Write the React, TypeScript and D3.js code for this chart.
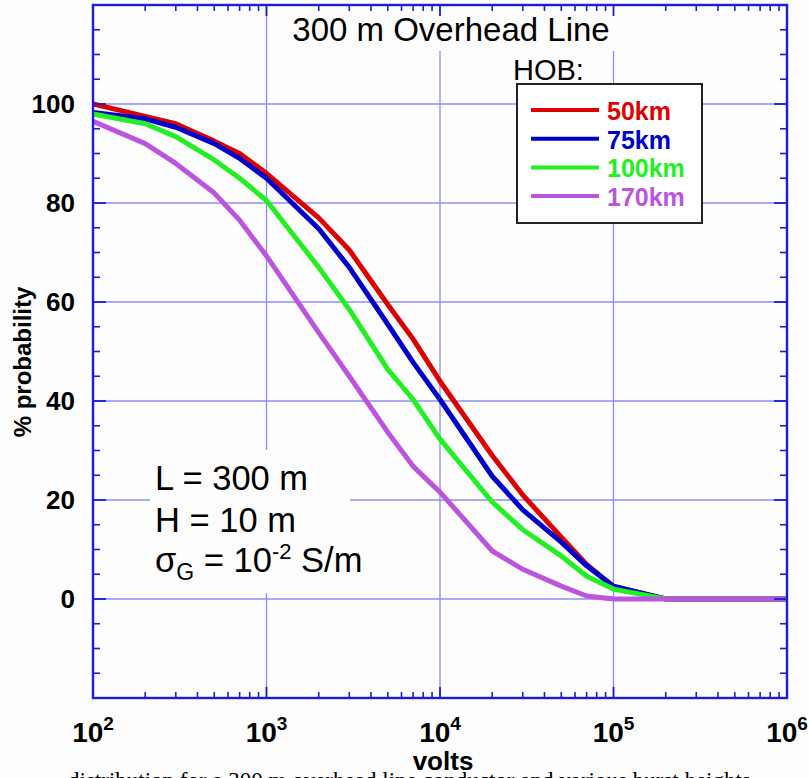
import React from "react";
import * as d3 from "d3";

const volts = [100, 200, 300, 500, 700, 1000, 2000, 3000, 5000, 7000, 1e4, 2e4, 3e4, 5e4, 7e4, 1e5, 2e5, 1e6];
const hob50 = [100, 97.5, 96, 92.5, 90, 86, 77, 70.5, 59.5, 52.5, 44, 29, 21, 12.5, 7, 2.5, 0, 0];
const hob75 = [98.3, 97, 95.3, 92, 89, 85, 74.8, 67, 55.5, 47.8, 40.3, 24.8, 18, 11.5, 6.7, 2.6, 0, 0];
const hob100 = [98, 96, 93.4, 88.7, 85, 80.5, 67, 58.5, 46.4, 40.3, 32.3, 19.6, 14, 8.7, 4.6, 2, 0, 0];
const hob170 = [96.5, 92, 88, 82, 76.5, 69.3, 53.8, 45, 33.7, 26.8, 21.6, 9.7, 6, 2.6, 0.6, 0, 0, 0];

const seriesNames = ["50km", "75km", "100km", "170km"];
const seriesColors = ["#dd0000", "#0000cc", "#22f022", "#bb55dd"];
const seriesValues = [hob50, hob75, hob100, hob170];

const yTicksMajor = [0, 20, 40, 60, 80, 100];
const xDecades = [2, 3, 4, 5, 6];

export default function App() {
  const L = 93, R = 787, T = 5, B = 698;
  const x = d3.scaleLog().domain([100, 1e6]).range([L, R]);
  const y = d3.scaleLinear().domain([-20, 120]).range([B, T]);
  const axisColor = "#1c1cd6";
  const gridColor = "#8c8cf0";

  const minorX: number[] = [];
  for (let e = 2; e < 6; e++) for (let m = 2; m <= 9; m++) minorX.push(m * Math.pow(10, e));
  const minorY: number[] = [];
  for (let v = -15; v < 120; v += 5) if (v % 20 !== 0) minorY.push(v);
  const majorY = d3.range(-20, 121, 20);

  const line = d3
    .line<number>()
    .x((_, i) => x(volts[i]))
    .y((d) => y(d));

  const font = "Arial, 'Liberation Sans', Helvetica, sans-serif";

  return (
    <svg
      width={809}
      height={778}
      style={{ position: "absolute", left: 0, top: 0, background: "#fff" }}
      fontFamily={font}
    >
      <rect x={0} y={0} width={809} height={778} fill="#fdfdfd" />
      <defs>
        <clipPath id="plotclip">
          <rect x={L} y={T} width={R - L} height={B - T} />
        </clipPath>
      </defs>
      {/* grid */}
      {xDecades.slice(1, 4).map((e) => (
        <line key={"gx" + e} x1={x(Math.pow(10, e))} x2={x(Math.pow(10, e))} y1={T} y2={B} stroke={gridColor} strokeWidth={1.3} />
      ))}
      {yTicksMajor.map((v, i) => (
        <line key={"gy" + i} x1={L} x2={R} y1={y(v)} y2={y(v)} stroke={gridColor} strokeWidth={1.3} />
      ))}
      {/* title background */}
      <rect x={272} y={T + 2} width={355} height={44} fill="#fdfdfd" />
      <text x={451} y={41} fontSize={33} textAnchor="middle" fill="#000">300 m Overhead Line</text>
      <text x={513} y={80} fontSize={29} fill="#000">HOB:</text>

      {/* annotation */}
      <rect x={150} y={450} width={200} height={143} fill="#fdfdfd" />
      <text x={155} y={490} fontSize={34.5} fill="#000">L = 300 m</text>
      <text x={155} y={532} fontSize={34.5} fill="#000">H = 10 m</text>
      <text x={155} y={572} fontSize={34.5} fill="#000">
        σ<tspan fontSize={23} dy={8}>G</tspan>
        <tspan dy={-8}> = 10</tspan>
        <tspan fontSize={22} dy={-13}>-2</tspan>
        <tspan dy={13}> S/m</tspan>
      </text>

      {/* curves */}
      <g clipPath="url(#plotclip)">
        {seriesValues.map((vals, i) => (
          <path
            key={seriesNames[i]}
            d={line(vals) || ""}
            fill="none"
            stroke={seriesColors[i]}
            strokeWidth={5}
            strokeLinejoin="round"
          />
        ))}
      </g>

      {/* ticks */}
      {minorX.map((v, i) => (
        <g key={"mx" + i} stroke={axisColor} strokeWidth={1.6}>
          <line x1={x(v)} x2={x(v)} y1={B} y2={B - 6} />
          <line x1={x(v)} x2={x(v)} y1={T} y2={T + 6} />
        </g>
      ))}
      {xDecades.map((e) => (
        <g key={"Mx" + e} stroke={axisColor} strokeWidth={1.8}>
          <line x1={x(Math.pow(10, e))} x2={x(Math.pow(10, e))} y1={B} y2={B - 11} />
          <line x1={x(Math.pow(10, e))} x2={x(Math.pow(10, e))} y1={T} y2={T + 11} />
        </g>
      ))}
      {minorY.map((v, i) => (
        <g key={"my" + i} stroke={axisColor} strokeWidth={1.6}>
          <line x1={L} x2={L + 7} y1={y(v)} y2={y(v)} />
          <line x1={R} x2={R - 7} y1={y(v)} y2={y(v)} />
        </g>
      ))}
      {majorY.map((v, i) => (
        <g key={"My" + i} stroke={axisColor} strokeWidth={1.8}>
          <line x1={L} x2={L + 13} y1={y(v)} y2={y(v)} />
          <line x1={R} x2={R - 13} y1={y(v)} y2={y(v)} />
        </g>
      ))}
      {/* frame */}
      <rect x={L} y={T} width={R - L} height={B - T} fill="none" stroke={axisColor} strokeWidth={2.4} />

      {/* y labels */}
      {yTicksMajor.map((v) => (
        <text key={"yl" + v} x={75} y={y(v) + 9} fontSize={26} fontWeight="bold" textAnchor="end" fill="#000">
          {v}
        </text>
      ))}
      {/* x labels */}
      {xDecades.map((e) => (
        <text key={"xl" + e} x={x(Math.pow(10, e))} y={742} fontSize={28} fontWeight="bold" textAnchor="middle" fill="#000">
          10
          <tspan fontSize={19} dy={-12}>{e}</tspan>
        </text>
      ))}
      <text x={443} y={770} fontSize={26} fontWeight="bold" textAnchor="middle" fill="#000">volts</text>
      <text
        transform="translate(31,362) rotate(-90)"
        fontSize={24}
        fontWeight="bold"
        textAnchor="middle"
        fill="#000"
      >
        % probability
      </text>

      {/* legend */}
      <rect x={517} y={84} width={185} height={139} fill="#fff" stroke="#222" strokeWidth={2} />
      {seriesNames.map((n, i) => (
        <g key={"lg" + n}>
          <line x1={531} x2={599} y1={110 + i * 28.7} y2={110 + i * 28.7} stroke={seriesColors[i]} strokeWidth={4} />
          <text x={607} y={120 + i * 28.7} fontSize={25} fontWeight="bold" fill={seriesColors[i]}>{n}</text>
        </g>
      ))}

      {/* caption (cut off by the picture edge) */}
      <text x={68} y={788} fontSize={23} fontFamily="'Liberation Serif', 'Times New Roman', serif" fill="#000">
        distribution for a 300 m overhead line conductor and various burst heights
      </text>
    </svg>
  );
}
